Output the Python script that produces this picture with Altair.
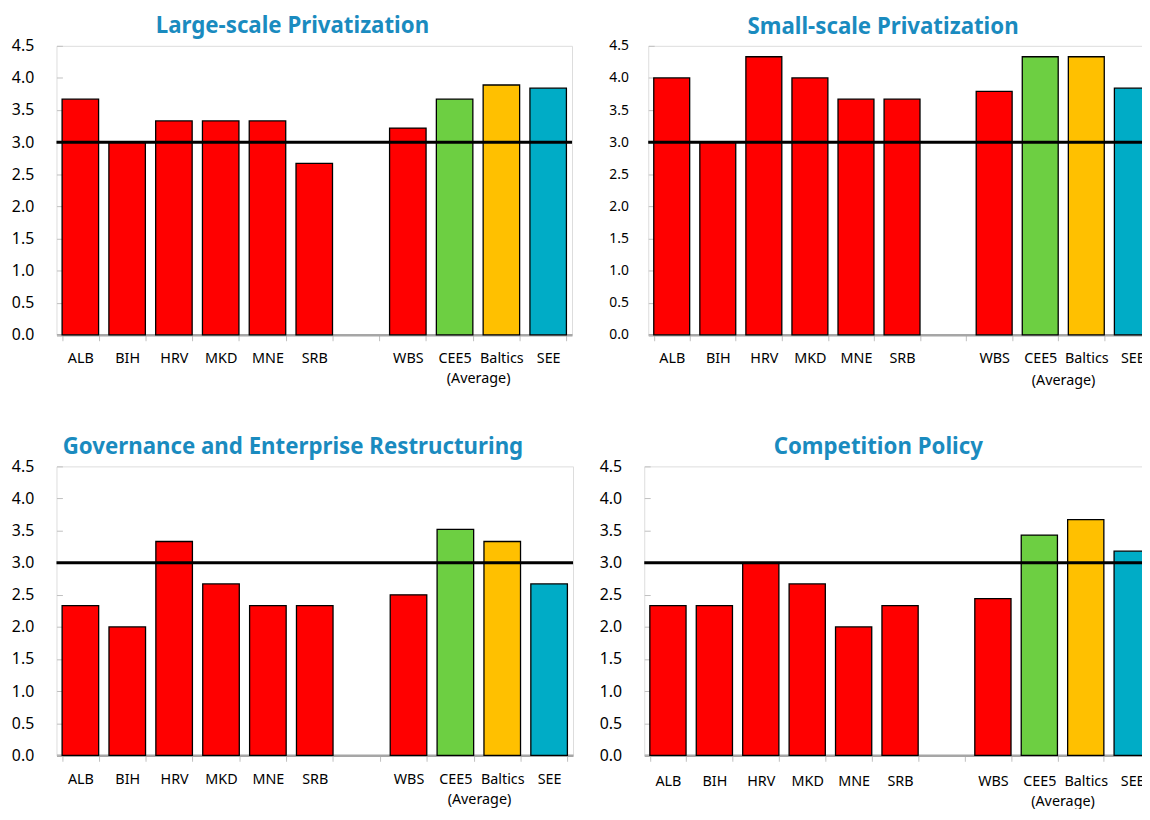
import altair as alt
import pandas as pd

# ---- data ----
CATEGORIES = ["ALB", "BIH", "HRV", "MKD", "MNE", "SRB", "WBS", "CEE5", "Baltics", "SEE"]
GAP = " "
AXIS_ORDER = CATEGORIES[:6] + [GAP] + CATEGORIES[6:]
BAR_COLORS = ["#FF0000"] * 7 + ["#6DCF42", "#FFC000", "#00ACC6"]

TITLES = [
    "Large-scale Privatization",
    "Small-scale Privatization",
    "Governance and Enterprise Restructuring",
    "Competition Policy",
]
LARGE = [3.67, 3.0, 3.33, 3.33, 3.33, 2.67, 3.22, 3.67, 3.89, 3.84]
SMALL = [4.0, 3.0, 4.33, 4.0, 3.67, 3.67, 3.79, 4.33, 4.33, 3.84]
GOV = [2.33, 2.0, 3.33, 2.67, 2.33, 2.33, 2.5, 3.52, 3.33, 2.67]
COMP = [2.33, 2.33, 3.0, 2.67, 2.0, 2.33, 2.44, 3.43, 3.67, 3.18]
Y_TICKS = [0.0, 0.5, 1.0, 1.5, 2.0, 2.5, 3.0, 3.5, 4.0, 4.5]
BENCHMARK = 3.0
NOTE = "(Average)"
NOTE_ANCHOR = "Baltics"

FONT = "Noto Sans"
TITLE_COLOR = "#1A8BBF"


def panel(values, title, width, height, ylabel_size, ylabel_pad, xlabel_pad, note_y):
    df = pd.DataFrame({"cat": CATEGORIES, "score": values})
    xscale = alt.Scale(domain=AXIS_ORDER, paddingInner=0.22, paddingOuter=0.12)
    xaxis = alt.Axis(
        title=None, labelAngle=0, labelFontSize=14.5, labelColor="#000000",
        labelPadding=xlabel_pad, tickBand="extent", tickSize=6, tickColor="#BFBFBF",
        tickWidth=1, domainColor="#A6A6A6", domainWidth=2.5, labelFont=FONT,
    )
    yscale = alt.Scale(domain=[0, 4.5], nice=False, zero=True)
    yaxis = alt.Axis(
        title=None, values=Y_TICKS, format=".1f", labelFontSize=ylabel_size,
        labelColor="#000000", domain=False, grid=False, offset=-6, tickSize=6,
        tickColor="#BFBFBF", labelPadding=ylabel_pad, labelFont=FONT,
    )
    bars = alt.Chart(df).mark_bar(stroke="black", strokeWidth=1.3).encode(
        x=alt.X("cat:N", sort=AXIS_ORDER, scale=xscale, axis=xaxis),
        y=alt.Y("score:Q", scale=yscale, axis=yaxis),
        color=alt.Color("cat:N", scale=alt.Scale(domain=CATEGORIES, range=BAR_COLORS), legend=None),
    )
    rule = alt.Chart(pd.DataFrame({"score": [BENCHMARK]})).mark_rule(
        color="black", strokeWidth=3
    ).encode(y=alt.Y("score:Q", scale=yscale, axis=yaxis))
    note = alt.Chart(pd.DataFrame({"cat": [NOTE_ANCHOR], "note": [NOTE]})).mark_text(
        fontSize=14.5, dx=-23, baseline="middle", font=FONT, color="#000000"
    ).encode(
        x=alt.X("cat:N", sort=AXIS_ORDER, scale=xscale, axis=xaxis),
        y=alt.value(height + note_y),
        text="note:N",
    )
    return alt.layer(bars, rule, note).properties(
        width=width, height=height,
        title=alt.Title(title, fontSize=22.5, font=FONT, fontWeight="bold",
                        color=TITLE_COLOR, anchor="middle", frame="bounds", offset=0),
    )


p1 = panel(LARGE, TITLES[0], 521, 292, 16, 23, 11, 45)
p2 = panel(SMALL, TITLES[1], 513, 292, 14, 20, 11, 47)
p3 = panel(GOV, TITLES[2], 522, 292, 16, 23, 11, 45)
p4 = panel(COMP, TITLES[3], 517, 292, 16, 23, 13, 47)

chart = alt.vconcat(
    alt.hconcat(p1, p2, spacing=34),
    alt.hconcat(p3, p4, spacing=23),
    spacing=48,
).properties(
    padding={"left": 2, "top": 3, "right": -16, "bottom": -4}
).configure_view(
    stroke="#BFBFBF", strokeWidth=1.5
).configure(background="white")

chart.save("out.html", embed_options={"renderer": "svg", "actions": False})
